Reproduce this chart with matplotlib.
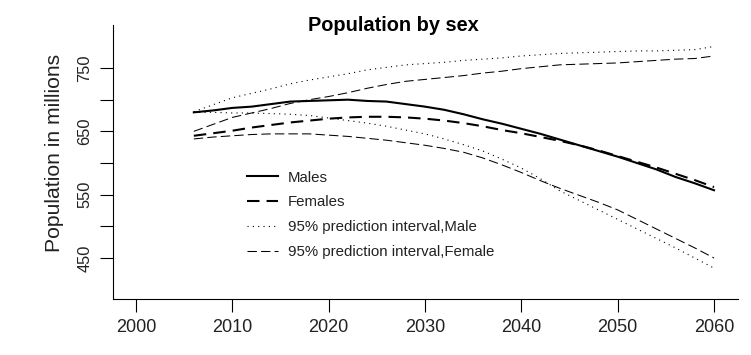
import matplotlib
matplotlib.use("Agg")
import matplotlib.pyplot as plt

plt.rcParams['font.family'] = ['Liberation Sans', 'DejaVu Sans']

years = [2006, 2008, 2010, 2012, 2014, 2016, 2018, 2020, 2022, 2024, 2026, 2028, 2030, 2032,
         2034, 2036, 2038, 2040, 2042, 2044, 2046, 2048, 2050, 2052, 2054, 2056, 2058, 2060]

males = [680, 683, 687, 689, 693, 697, 698, 699, 700, 698, 697, 693, 689, 684,
         677, 669, 662, 654, 646, 637, 628, 619, 610, 600, 590, 578, 568, 557]

females = [643, 647, 651, 656, 660, 664, 667, 670, 672, 673, 673, 672, 670, 667,
           663, 658, 652, 647, 641, 635, 628, 620, 611, 602, 593, 583, 573, 562]

male_upper = [681, 692, 703, 710, 717, 725, 731, 736, 741, 747, 751, 755, 757, 759,
              762, 764, 766, 769, 771, 773, 774, 775, 776, 777, 777, 778, 779, 784]

male_lower = [680, 680, 679, 679, 678, 677, 675, 671, 667, 663, 658, 652, 646, 638,
              629, 619, 606, 592, 575, 556, 541, 526, 511, 496, 481, 466, 450, 434]

female_upper = [650, 661, 672, 679, 686, 694, 700, 705, 711, 718, 724, 729, 732, 735,
                738, 742, 745, 749, 752, 755, 756, 757, 758, 760, 762, 764, 765, 769]

female_lower = [638, 641, 643, 645, 646, 646, 646, 644, 642, 639, 636, 632, 628, 623,
                617, 608, 597, 585, 572, 560, 549, 538, 526, 511, 496, 481, 466, 450]

xtick_values = [2000, 2010, 2020, 2030, 2040, 2050, 2060]
ytick_values = [450, 500, 550, 600, 650, 700, 750]
ytick_labels = ["450", "", "550", "", "650", "", "750"]

title = "Population by sex"
ylabel = "Population in millions"
legend_labels = ["Males", "Females", "95% prediction interval,Male",
                 "95% prediction interval,Female"]

W, H = 751, 355
fig = plt.figure(figsize=(W / 100, H / 100), dpi=100)
ax = fig.add_axes([113 / W, 1 - 299 / H, (738 - 113) / W, (299 - 25) / H])

txt = '#222222'

ax.plot(years, males, color='black', lw=1.5, linestyle='-', label=legend_labels[0])
ax.plot(years, females, color='black', lw=1.5, linestyle=(0, (6, 3.4)), label=legend_labels[1])
ax.plot(years, male_upper, color='black', lw=0.8, linestyle=(0, (1, 3.8)),
        label=legend_labels[2])
ax.plot(years, male_lower, color='black', lw=0.8, linestyle=(0, (1, 3.8)))
ax.plot(years, female_upper, color='black', lw=0.75, linestyle=(0, (9, 4)),
        label=legend_labels[3])
ax.plot(years, female_lower, color='black', lw=0.75, linestyle=(0, (9, 4)))

ax.set_xlim(1997.61, 2062.49)
ax.set_ylim(385.3, 817.9)

for s in ['top', 'right']:
    ax.spines[s].set_visible(False)
for s in ['left', 'bottom']:
    ax.spines[s].set_linewidth(0.8)

ax.set_xticks(xtick_values)
ax.set_xticklabels([str(v) for v in xtick_values], fontsize=13, color=txt)
ax.set_yticks(ytick_values)
ax.set_yticklabels(ytick_labels, rotation=90, va='center', fontsize=11.8, color=txt)
ax.tick_params(axis='x', length=9.6, width=0.8, pad=5)
ax.tick_params(axis='y', length=9.6, width=0.8, pad=5.4)

fig.text(393.5 / W, 1 - 31 / H, title, ha='center', va='baseline',
         fontsize=14.4, fontweight='bold', color='black')
fig.text(55 / W, 1 - 152.5 / H, ylabel, ha='center', va='center', rotation=90,
         fontsize=15.2, color=txt)

leg = ax.legend(loc='upper left', bbox_to_anchor=(247 / W, 1 - 170.5 / H),
                bbox_transform=fig.transFigure, frameon=False, fontsize=10.8,
                borderpad=0, borderaxespad=0, handlelength=2.07, handletextpad=0.67,
                labelspacing=0.72)
for t in leg.get_texts():
    t.set_color(txt)

fig.savefig("out.png", dpi=100)
